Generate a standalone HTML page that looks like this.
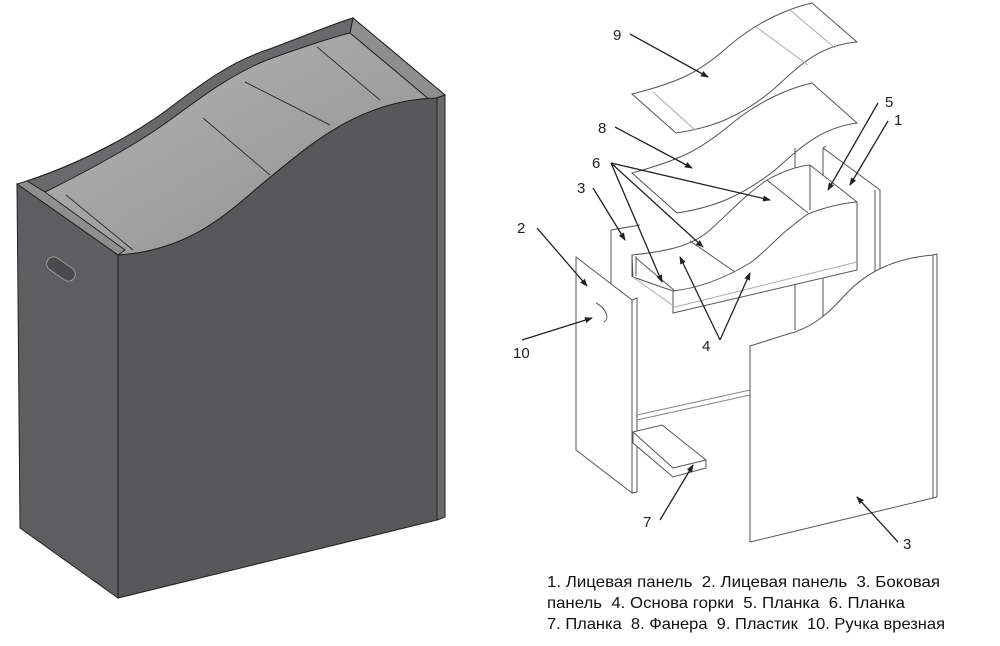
<!DOCTYPE html>
<html><head><meta charset="utf-8"><style>
html,body{margin:0;padding:0;background:#fff;width:1000px;height:646px;overflow:hidden}
svg{display:block}
text{font-family:"Liberation Sans","DejaVu Sans",sans-serif;white-space:pre}
</style></head><body>
<svg width="1000" height="646" viewBox="0 0 1000 646" xmlns="http://www.w3.org/2000/svg">
<defs>
<linearGradient id="ins" x1="0" y1="0" x2="1" y2="1">
<stop offset="0" stop-color="#b8b8b8"/><stop offset="1" stop-color="#8e8e8e"/></linearGradient>
<marker id="ar" markerWidth="8" markerHeight="6" refX="7" refY="3" orient="auto" markerUnits="userSpaceOnUse">
<path d="M0,0 L8,3 L0,6 z" fill="#222"/></marker>
</defs>
<!-- LEFT BOX -->
<g stroke="#222" stroke-width="1">
<path d="M27,181 C90,160 140,130 167,110 C200,85 230,62 267,50 C300,38 330,25 353,18 L445,95 L437,98 C360,100 310,145 273,175 C240,200 200,250 118,255 Z" fill="url(#ins)"/>
<path d="M27,181 C90,160 140,130 167,110 C200,85 230,62 267,50 C300,38 330,25 353,18 L350,33 C330,38 300,48 267,60 C230,75 200,98 170,120 C140,142 90,170 45,192 Z" fill="#6a6a6c"/>
<path d="M353,18 L445,95 L430,100 L350,33 Z" fill="#8e8e8e"/>
<path d="M27,181 L45,192 L125,250 L118,255 L17,184 Z" fill="#8e8e8e"/>
<path d="M66,195 L133,250 M203,118 L270,175 M245,82 L330,125 M317,47 L380,100" fill="none" stroke="#333"/>
<path d="M17,184 L118,255 L118,598 L20,528 Z" fill="#5e5e60"/>
<path d="M118,255 C200,250 240,200 273,175 C310,145 360,100 437,98 L437,520 L118,598 Z" fill="#58585a"/>
<path d="M437,98 L445,95 L445,517 L437,520 Z" fill="#6a6a6c"/>
<rect x="45" y="262" width="32" height="14" rx="7" transform="rotate(35 61 269)" fill="#4a4a4c" stroke="#999"/>
</g>

<!-- RIGHT EXPLODED -->
<g fill="none" stroke="#555" stroke-width="1">
<path d="M632,94 C680,82 700,72 730,45 C760,20 790,8 812,3 L857,42 C820,45 800,65 775,88 C740,118 710,128 676,133 Z" fill="#fff"/>
<path d="M653,92 L695,130 M756,27 L808,65 M790,10 L835,48" stroke="#aaa"/>
<path d="M632,173 C680,160 700,150 730,125 C760,100 790,88 812,83 L857,123 C820,128 800,148 775,170 C740,198 710,208 677,213 Z" fill="#fff"/>
<!-- back panel 3 -->
<path d="M611,230 L611,300 M611,230 L640,225"/>
<!-- panel 1 -->
<path d="M795,148 L795,330 M823,148 L823,330 M823,148 L880,190 L880,420 M875,190 L875,420 M823,148 L826,146"/>
<!-- box 5 / base 4 -->
<path d="M632,255 C660,252 690,248 710,230 C730,212 745,195 767,180 C785,170 800,166 810,165 L857,202 L857,270 L673,313 L673,291 L633,277 Z" fill="#fff"/>
<path d="M632,255 L632,277 M636,256 L636,276 M636,258 L675,291 M673,291 C700,288 725,278 750,263 C765,252 775,240 787,230 C800,220 806,214 813,212 C830,206 845,203 857,202"/>
<path d="M810,165 L810,210 M767,180 L808,213 M690,241 L735,272" />
<path d="M633,277 L675,307 M675,307 L857,262" stroke="#aaa"/>
<!-- front panel 2 -->
<path d="M576,257 L632,300 L632,493 L576,450 Z" fill="#fff"/>
<path d="M632,300 L637,298 L637,492 L632,493"/>
<path d="M596,303 C606,308 610,318 604,322"/>
<path d="M637,420 L750,395 M637,415 L750,390" stroke="#888"/>
<!-- piece 7 -->
<path d="M633,432 L662,425 L706,460 L706,468 L673,477 L633,443 Z M673,468 L706,460 M633,432 L673,468" fill="#fff"/>
<!-- side panel 3 front -->
<path d="M750,346 C770,340 780,336 795,332 C815,325 830,312 845,295 C870,268 900,258 933,255 L933,498 L750,542 Z" fill="#fff"/>
<path d="M933,255 L937,254 L937,497 L933,498"/>
</g>

<g stroke="#222" stroke-width="1.3" fill="none" marker-end="url(#ar)">
<path d="M630,34 L708,77"/>
<path d="M615,127 L692,168"/>
<path d="M611,163 L770,200"/>
<path d="M611,163 L703,247"/>
<path d="M611,163 L662,282"/>
<path d="M593,188 L625,240"/>
<path d="M537,228 L587,286"/>
<path d="M522,340 L592,318"/>
<path d="M878,103 L828,190"/>
<path d="M888,121 L850,185"/>
<path d="M720,340 L680,257"/>
<path d="M720,340 L750,273"/>
<path d="M660,520 L693,465"/>
<path d="M898,542 L857,497"/>
</g>
<g font-size="15" fill="#222">
<text x="613" y="40">9</text>
<text x="598" y="133">8</text>
<text x="592" y="168">6</text>
<text x="577" y="193">3</text>
<text x="517" y="233">2</text>
<text x="513" y="358">10</text>
<text x="885" y="107">5</text>
<text x="894" y="125">1</text>
<text x="702" y="351">4</text>
<text x="643" y="527">7</text>
<text x="903" y="549">3</text>
</g>
<g font-size="16" fill="#111">
<text x="547" y="587" textLength="393" lengthAdjust="spacingAndGlyphs">1. Лицевая панель  2. Лицевая панель  3. Боковая</text>
<text x="547" y="608" textLength="358" lengthAdjust="spacingAndGlyphs">панель  4. Основа горки  5. Планка  6. Планка</text>
<text x="547" y="629" textLength="398" lengthAdjust="spacingAndGlyphs">7. Планка  8. Фанера  9. Пластик  10. Ручка врезная</text>
</g>
</svg>
</body></html>
